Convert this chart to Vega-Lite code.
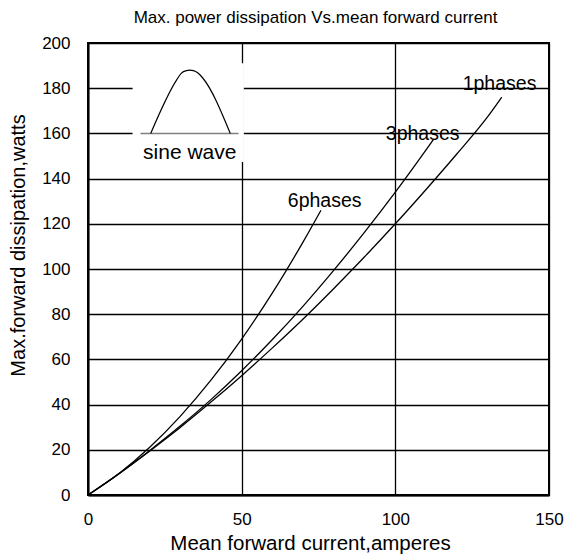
{
  "$schema": "https://vega.github.io/schema/vega-lite/v6.json",
  "autosize": {"type": "none"},
  "width": 461,
  "height": 452,
  "padding": {"left": 88, "top": 43, "right": 16, "bottom": 63},
  "background": "white",
  "title": {
    "text": "Max. power dissipation  Vs.mean forward current",
    "font": "Liberation Sans",
    "fontSize": 17,
    "fontWeight": "normal",
    "color": "black",
    "anchor": "middle",
    "dx": -3,
    "offset": 7
  },
  "datasets": {
    "curves": [
      {"series": "1phases", "x": 0, "y": 0},
      {"series": "1phases", "x": 10, "y": 9.4},
      {"series": "1phases", "x": 20, "y": 19.4},
      {"series": "1phases", "x": 30, "y": 29.9},
      {"series": "1phases", "x": 40, "y": 41.1},
      {"series": "1phases", "x": 50, "y": 52.8},
      {"series": "1phases", "x": 60, "y": 65.1},
      {"series": "1phases", "x": 70, "y": 77.9},
      {"series": "1phases", "x": 80, "y": 91.4},
      {"series": "1phases", "x": 90, "y": 105.4},
      {"series": "1phases", "x": 100, "y": 120},
      {"series": "1phases", "x": 110, "y": 135.2},
      {"series": "1phases", "x": 120, "y": 150.9},
      {"series": "1phases", "x": 130, "y": 167.3},
      {"series": "1phases", "x": 134.6, "y": 176},
      {"series": "3phases", "x": 0, "y": 0},
      {"series": "3phases", "x": 10, "y": 9.3},
      {"series": "3phases", "x": 20, "y": 19.6},
      {"series": "3phases", "x": 30, "y": 30.5},
      {"series": "3phases", "x": 40, "y": 42.2},
      {"series": "3phases", "x": 50, "y": 55},
      {"series": "3phases", "x": 60, "y": 68.8},
      {"series": "3phases", "x": 70, "y": 83.6},
      {"series": "3phases", "x": 80, "y": 99.5},
      {"series": "3phases", "x": 90, "y": 116.3},
      {"series": "3phases", "x": 100, "y": 134},
      {"series": "3phases", "x": 110, "y": 152.7},
      {"series": "3phases", "x": 112.4, "y": 157.3},
      {"series": "6phases", "x": 0, "y": 0},
      {"series": "6phases", "x": 10, "y": 9.4},
      {"series": "6phases", "x": 20, "y": 21},
      {"series": "6phases", "x": 30, "y": 34.8},
      {"series": "6phases", "x": 40, "y": 50.8},
      {"series": "6phases", "x": 50, "y": 69},
      {"series": "6phases", "x": 60, "y": 89.4},
      {"series": "6phases", "x": 70, "y": 112},
      {"series": "6phases", "x": 75.8, "y": 126}
    ],
    "hump": [
      {"x": 20.4, "y": 160},
      {"x": 28.8, "y": 183.6},
      {"x": 30.4, "y": 186.7},
      {"x": 32, "y": 187.8},
      {"x": 33.1, "y": 188},
      {"x": 34.3, "y": 187.8},
      {"x": 35.8, "y": 186.7},
      {"x": 37.4, "y": 184.4},
      {"x": 46.3, "y": 160}
    ],
    "base": [
      {"x": 17.1, "y": 160},
      {"x": 49, "y": 160}
    ],
    "box": [
      {"x": 14.5, "x2": 50.7, "y": 147.3, "y2": 191}
    ],
    "labels": [
      {"label": "1phases", "x": 133.9, "y": 182, "size": 19.5},
      {"label": "3phases", "x": 108.9, "y": 159.7, "size": 19.5},
      {"label": "6phases", "x": 77, "y": 130.2, "size": 19.5},
      {"label": "sine wave", "x": 33.1, "y": 151.3, "size": 21}
    ]
  },
  "encoding": {
    "x": {
      "type": "quantitative",
      "scale": {"domain": [0, 150], "nice": false},
      "axis": {
        "values": [0, 50, 100, 150],
        "title": "Mean forward  current,amperes",
        "titleX": 222,
        "titleY": 48,
        "titleFontSize": 20.5,
        "titleAnchor": null,
        "titleAlign": "center",
        "titleBaseline": "middle",
        "labelPadding": 16,
        "labelFlush": false
      }
    },
    "y": {
      "type": "quantitative",
      "scale": {"domain": [0, 200], "nice": false},
      "axis": {
        "values": [0, 20, 40, 60, 80, 100, 120, 140, 160, 180, 200],
        "title": "Max.forward  dissipation,watts",
        "titleX": -70,
        "titleY": 202,
        "titleAngle": 270,
        "titleAlign": "center",
        "titleBaseline": "middle",
        "labelPadding": 18,
        "labelFlush": false
      }
    }
  },
  "layer": [
    {
      "data": {"name": "box"},
      "mark": {"type": "rect", "fill": "white", "stroke": null},
      "encoding": {
        "x": {"field": "x"},
        "x2": {"field": "x2"},
        "y": {"field": "y"},
        "y2": {"field": "y2"}
      }
    },
    {
      "data": {"name": "curves"},
      "mark": {"type": "line", "color": "black", "strokeWidth": 1.3, "interpolate": "monotone"},
      "encoding": {
        "x": {"field": "x"},
        "y": {"field": "y"},
        "detail": {"field": "series"}
      }
    },
    {
      "data": {"name": "base"},
      "mark": {"type": "line", "color": "#808080", "strokeWidth": 1.5},
      "encoding": {
        "x": {"field": "x"},
        "y": {"field": "y"}
      }
    },
    {
      "data": {"name": "hump"},
      "mark": {"type": "line", "color": "black", "strokeWidth": 1.2, "interpolate": "monotone"},
      "encoding": {
        "x": {"field": "x"},
        "y": {"field": "y"}
      }
    },
    {
      "data": {"name": "labels"},
      "mark": {"type": "text", "font": "Liberation Sans", "color": "black", "align": "center", "baseline": "middle"},
      "encoding": {
        "x": {"field": "x"},
        "y": {"field": "y"},
        "text": {"field": "label"},
        "size": {"field": "size", "type": "quantitative", "scale": null}
      }
    }
  ],
  "config": {
    "view": {"stroke": "black", "strokeWidth": 2},
    "axis": {
      "grid": true,
      "gridColor": "black",
      "gridOpacity": 1,
      "gridWidth": 1.3,
      "domainColor": "black",
      "domainWidth": 2,
      "ticks": false,
      "labelFont": "Liberation Sans",
      "labelFontSize": 17,
      "labelColor": "black",
      "titleFont": "Liberation Sans",
      "titleFontSize": 20,
      "titleFontWeight": "normal",
      "titleColor": "black"
    }
  }
}
